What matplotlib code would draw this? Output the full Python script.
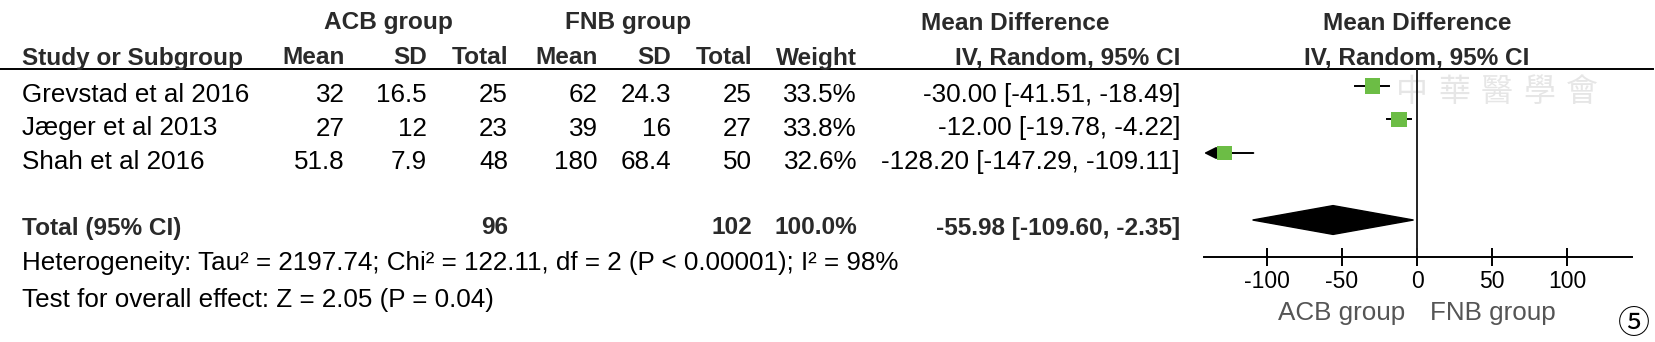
import numpy as np
import matplotlib
matplotlib.use("Agg")
import matplotlib.pyplot as plt
from matplotlib.patches import Polygon

# study data
studies = ["Grevstad et al 2016", "Jæger et al 2013", "Shah et al 2016"]
acb_mean = [32, 27, 51.8]
acb_sd = [16.5, 12, 7.9]
acb_n = [25, 23, 48]
fnb_mean = [62, 39, 180]
fnb_sd = [24.3, 16, 68.4]
fnb_n = [25, 27, 50]
weight = [33.5, 33.8, 32.6]
md = [-30.00, -12.00, -128.20]
md_lo = [-41.51, -19.78, -147.29]
md_hi = [-18.49, -4.22, -109.11]

total_acb = 96
total_fnb = 102
total_weight = 100.0
total_md = -55.98
total_lo = -109.60
total_hi = -2.35

het_text = "Heterogeneity: Tau² = 2197.74; Chi² = 122.11, df = 2 (P < 0.00001); I² = 98%"
effect_text = "Test for overall effect: Z = 2.05 (P = 0.04)"
xticks = [-100, -50, 0, 50, 100]
watermark = "中華醫學會"

plt.rcParams['font.family'] = ['Liberation Sans', 'DejaVu Sans']
plt.rcParams['axes.unicode_minus'] = False

fs = 17.6     # bold headers
fr = 18.7     # regular text
dark = '#2a2a2a'
green = '#6cbd45'

fig = plt.figure(figsize=(16.55, 3.42), dpi=100)
tab = fig.add_axes([0, 0, 1, 1])
tab.set_xlim(0, 1655)
tab.set_ylim(342, 0)
tab.axis('off')

# column right edges (pixels)
col_x = [345, 427, 508, 598, 671, 752, 857, 1180]
zero_x = 1417

# headers
tab.text(388, 23, "ACB group", ha='center', va='center', fontsize=fs, fontweight='bold', color=dark)
tab.text(628, 23, "FNB group", ha='center', va='center', fontsize=fs, fontweight='bold', color=dark)
tab.text(1015, 23, "Mean Difference", ha='center', va='center', fontsize=fs, fontweight='bold', color=dark)
tab.text(zero_x, 23, "Mean Difference", ha='center', va='center', fontsize=fs, fontweight='bold', color=dark)
tab.text(22, 58, "Study or Subgroup", ha='left', va='center', fontsize=fs, fontweight='bold', color=dark)
heads = ["Mean", "SD", "Total", "Mean", "SD", "Total", "Weight", "IV, Random, 95% CI"]
for x, h in zip(col_x, heads):
    tab.text(x, 58, h, ha='right', va='center', fontsize=fs, fontweight='bold', color=dark)
tab.text(zero_x, 58, "IV, Random, 95% CI", ha='center', va='center', fontsize=fs, fontweight='bold', color=dark)
tab.plot([0, 1653], [69, 69], color='black', lw=1.4)

# study rows
for i, name in enumerate(studies):
    y = 95 + 33.5 * i
    vals = [f"{acb_mean[i]:g}", f"{acb_sd[i]:g}", f"{acb_n[i]}",
            f"{fnb_mean[i]:g}", f"{fnb_sd[i]:g}", f"{fnb_n[i]}",
            f"{weight[i]:.1f}%", f"{md[i]:.2f} [{md_lo[i]:.2f}, {md_hi[i]:.2f}]"]
    tab.text(22, y, name, ha='left', va='center', fontsize=fr, color='black')
    for x, v in zip(col_x, vals):
        tab.text(x, y, v, ha='right', va='center', fontsize=fr, color='black')

# total row
yt = 94 + 33.5 * (len(studies) + 1)
tab.text(22, yt, "Total (95% CI)", ha='left', va='center', fontsize=fs, fontweight='bold', color=dark)
tab.text(col_x[2], yt, f"{total_acb}", ha='right', va='center', fontsize=fs, fontweight='bold', color=dark)
tab.text(col_x[5], yt, f"{total_fnb}", ha='right', va='center', fontsize=fs, fontweight='bold', color=dark)
tab.text(col_x[6], yt, f"{total_weight:.1f}%", ha='right', va='center', fontsize=fs, fontweight='bold', color=dark)
tab.text(col_x[7], yt, f"{total_md:.2f} [{total_lo:.2f}, {total_hi:.2f}]", ha='right', va='center',
         fontsize=fs, fontweight='bold', color=dark)
tab.text(22, 263, het_text, ha='left', va='center', fontsize=fr, color='black')
tab.text(22, 300, effect_text, ha='left', va='center', fontsize=fr, color='black')

# faint watermark + figure number
for k, ch in enumerate(watermark):
    tab.text(1412 + 42.5 * k, 92, ch, ha='center', va='center', fontsize=23, color='#e6e6e6',
             family=['Noto Sans CJK TC', 'DejaVu Sans'], zorder=0)
tab.text(1634, 324, "⑤", ha='center', va='center', fontsize=23, color='black',
         family=['Noto Sans CJK SC', 'DejaVu Sans'])

# forest plot
ax = fig.add_axes([1204 / 1655, 1 - 257 / 342, 428 / 1655, 188 / 342])
ax.patch.set_alpha(0)
ax.set_xlim(-142, 143.3)
ax.set_ylim(5.104, -0.507)
for s in ['top', 'right', 'left']:
    ax.spines[s].set_visible(False)
ax.spines['bottom'].set_linewidth(1.4)
ax.set_yticks([])
ax.set_xticks(xticks)
ax.tick_params(axis='x', direction='inout', length=13, width=1.4, labelsize=16.5, pad=3)
ax.axvline(0, color='#222222', lw=1.4)

rows = np.arange(len(studies))
xmin = ax.get_xlim()[0]
for r, lo, hi in zip(rows, md_lo, md_hi):
    if lo < xmin:
        ax.annotate('', xy=(xmin, r), xytext=(hi, r),
                    arrowprops=dict(arrowstyle='-|>', color='black', lw=1.4,
                                    mutation_scale=18, shrinkA=0, shrinkB=0))
    else:
        ax.plot([lo, hi], [r, r], color='black', lw=1.4)
ax.scatter(md, rows, marker='s', s=np.array(weight) * 3.5, color=green, edgecolors='none', zorder=3)

trow = len(studies) + 1
ax.add_patch(Polygon([[total_lo, trow], [total_md, trow - 0.43], [total_hi, trow], [total_md, trow + 0.43]],
                     closed=True, color='black'))

xa = ax.get_xaxis_transform()
ax.annotate("ACB group", xy=(0, 0), xycoords=xa, xytext=(-12, -56), textcoords='offset pixels',
            ha='right', va='center', fontsize=fr, color='#555555')
ax.annotate("FNB group", xy=(0, 0), xycoords=xa, xytext=(13, -56), textcoords='offset pixels',
            ha='left', va='center', fontsize=fr, color='#555555')

fig.savefig("out.png", dpi=100)
